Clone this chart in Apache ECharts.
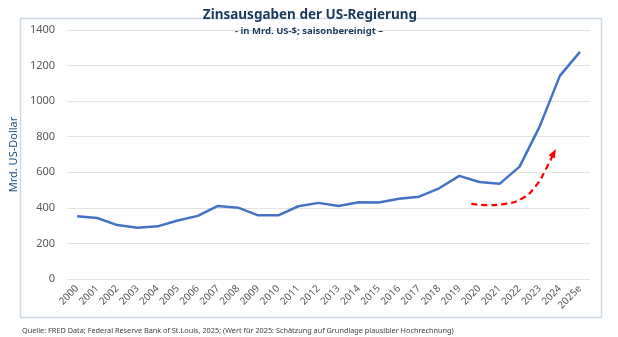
<!DOCTYPE html>
<html><head><meta charset="utf-8">
<script src="https://cdn.jsdelivr.net/npm/echarts@6/dist/echarts.min.js"></script>
<style>html,body{margin:0;padding:0;background:#fff}#c{width:618px;height:337px}</style>
</head><body><div id="c"></div>
<script>
const years = ['2000','2001','2002','2003','2004','2005','2006','2007','2008','2009','2010','2011','2012','2013','2014','2015','2016','2017','2018','2019','2020','2021','2022','2023','2024','2025e'];
const interest = [353,343,303,288,296,329,355,411,401,358,358,409,428,410,432,430,451,463,510,580,545,535,632,858,1142,1277];
const trendX = [19.6,20.5,21.1,22.1,22.8,23.3,23.7];
const trendY = [422,415,420,451,522,616,709];
const yTicks = {min:0, max:1400, interval:200};

const chart = echarts.init(document.getElementById('c'));
const trendData = trendX.map((x,i)=> i===trendX.length-1
  ? {value:[x,trendY[i]], symbol:'triangle', symbolSize:[7,9], symbolRotate:-27, itemStyle:{color:'#FF0000'}}
  : [x,trendY[i]]);
chart.setOption({
  animation:false,
  title:[{text:'Zinsausgaben der US-Regierung', left:305, textAlign:'center', top:3,
    textStyle:{fontFamily:'Noto Sans', fontSize:13.5, fontWeight:'bold', color:'#1B3A5C'}},
    {text:'- in Mrd. US-$; saisonbereinigt –', left:304, textAlign:'center', top:21,
    textStyle:{fontFamily:'Noto Sans', fontSize:9.5, fontWeight:'bold', color:'#1B3A5C'}},
    {text:'Quelle: FRED Data; Federal Reserve Bank of St.Louis, 2025; (Wert für 2025: Schätzung auf Grundlage plausibler Hochrechnung)',
     left:17, top:322, textStyle:{fontFamily:'Noto Sans', fontSize:7.3, fontWeight:'normal', color:'#404040'}}],
  graphic:[{type:'rect', shape:{x:20.5, y:18.5, width:581, height:299}, style:{fill:'none', stroke:'#D0DAE8', lineWidth:1.5}, z:-1}],
  grid:{left:65, right:28, top:30, bottom:58},
  xAxis:[{type:'category', data:years, boundaryGap:true,
    axisLine:{show:false}, axisTick:{show:false},
    axisLabel:{rotate:45, fontSize:10, color:'#595959', fontFamily:'Noto Sans', margin:8, interval:0}},
    {type:'value', min:-0.5, max:25.5, show:false}],
  yAxis:{type:'value', min:yTicks.min, max:yTicks.max, interval:yTicks.interval,
    name:'Mrd. US-Dollar', nameLocation:'middle', nameGap:48, nameRotate:90,
    nameTextStyle:{color:'#1F4E79', fontSize:11, fontFamily:'Noto Sans'},
    axisLine:{show:false}, axisTick:{show:false},
    axisLabel:{fontSize:11, color:'#595959', fontFamily:'Noto Sans', margin:12, formatter: v => String(v)},
    splitLine:{lineStyle:{color:'#E3E3E3', width:1}}},
  series:[
    {type:'line', data:interest, xAxisIndex:0, symbol:'none', lineStyle:{color:'#4472C4', width:2.5}},
    {type:'line', data:trendData, xAxisIndex:1, smooth:true, symbol:'none', showSymbol:true,
      lineStyle:{color:'#FF0000', width:2.2, type:[6,4]}}
  ]
});
</script></body></html>
